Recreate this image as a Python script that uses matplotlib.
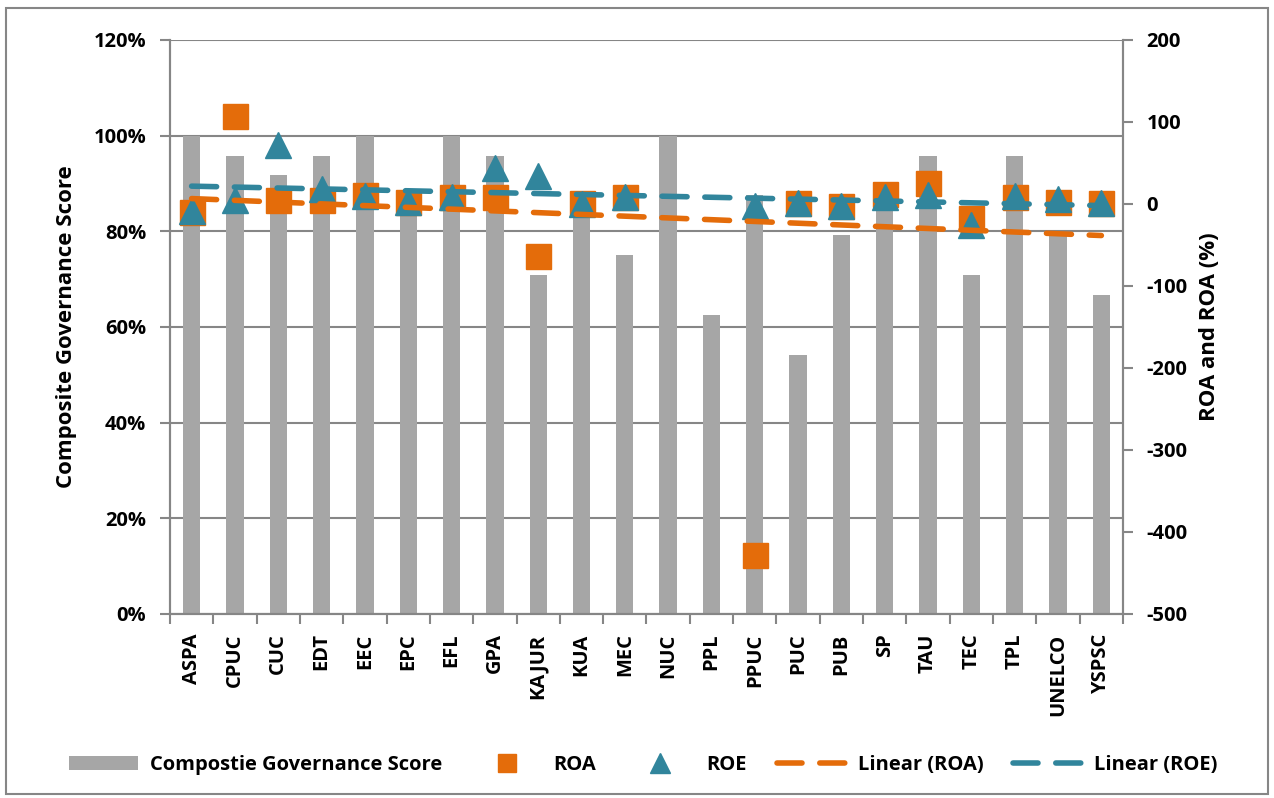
import numpy as np
import matplotlib.pyplot as plt
from matplotlib.patches import Rectangle
from matplotlib.ticker import PercentFormatter

plt.rcParams["font.family"] = ["Open Sans", "DejaVu Sans"]
plt.rcParams["font.weight"] = "bold"
plt.rcParams["axes.unicode_minus"] = False

companies = ["ASPA", "CPUC", "CUC", "EDT", "EEC", "EPC", "EFL", "GPA", "KAJUR", "KUA",
             "MEC", "NUC", "PPL", "PPUC", "PUC", "PUB", "SP", "TAU", "TEC", "TPL",
             "UNELCO", "YSPSC"]
score = [1.0, 0.958, 0.917, 0.958, 1.0, 0.833, 1.0, 0.958, 0.708, 0.833,
         0.75, 1.0, 0.625, 0.875, 0.542, 0.792, 0.875, 0.958, 0.708, 0.958,
         0.792, 0.667]
roa = [-10, 107, 5, 5, 11, 2, 9, 8, -63, 1,
       8, np.nan, np.nan, -428, 1, -2, 12, 25, -17, 8.5,
       2, 1]
roe = [-8, 5, 72, 18, 10, 2, 9, 44, 34, 0,
       8, np.nan, np.nan, -2, 1, -2, 8.5, 10.5, -26, 9.5,
       5.5, 1]

gray = "#A6A6A6"
orange = "#E46C0A"
teal = "#31859C"
axis_gray = "#868686"
fs = 14.5

fig = plt.figure(figsize=(12.74, 7.98), dpi=100)
ax1 = fig.add_axes([0.1334, 0.2306, 0.7481, 0.7193])
ax2 = ax1.twinx()

x = np.arange(1, len(companies) + 1)
ax1.bar(x, score, width=0.4, color=gray, zorder=2, label="Compostie Governance Score")
ax1.set_ylim(0, 1.2)
ax1.set_xlim(0.5, len(companies) + 0.5)
ax1.set_yticks(np.arange(0, 1.21, 0.2))
ax1.yaxis.set_major_formatter(PercentFormatter(1.0, decimals=0))
ax1.grid(axis="y", color=axis_gray, linewidth=1.5, zorder=0)
ax1.set_axisbelow(True)
ax1.set_xticks(x)
ax1.set_xticklabels(companies, rotation=90, fontsize=fs, fontweight="bold")
ax1.set_xticks(np.arange(0.5, len(companies) + 1, 1), minor=True)
ax1.tick_params(axis="x", which="major", length=0, pad=14)
ax1.tick_params(axis="x", which="minor", length=7, color=axis_gray, width=1.5)
ax1.tick_params(axis="y", length=7, color=axis_gray, width=1.5, labelsize=fs, pad=10)
ax1.set_ylabel("Composite Governance Score", fontsize=16, fontweight="bold", labelpad=12)

roa_a = np.array(roa, dtype=float)
roe_a = np.array(roe, dtype=float)
ax2.plot(x, roa_a, "s", color=orange, markersize=18, zorder=3, label="ROA")
ax2.plot(x, roe_a, "^", color=teal, markersize=19, zorder=4, label="ROE")

# linear trendlines, gaps skipped like Excel does
for vals, col, lab in [(roa_a, orange, "Linear (ROA)"), (roe_a, teal, "Linear (ROE)")]:
    ok = ~np.isnan(vals)
    k, b = np.polyfit(x[ok], vals[ok], 1)
    ax2.plot(x, k * x + b, color=col, linewidth=4, dashes=(4.5, 3.2),
             dash_capstyle="round", zorder=5, label=lab)

ax2.set_ylim(-500, 200)
ax2.set_yticks(np.arange(-500, 201, 100))
ax2.tick_params(axis="y", length=7, color=axis_gray, width=1.5, labelsize=fs, pad=10)
ax2.set_ylabel("ROA and ROA (%)", fontsize=16, fontweight="bold", labelpad=8)

for ax in (ax1, ax2):
    ax.spines["top"].set_visible(False)
    for s in ("left", "right", "bottom"):
        ax.spines[s].set_color(axis_gray)
        ax.spines[s].set_linewidth(1.5)
    for lbl in ax.get_yticklabels():
        lbl.set_fontweight("bold")

h1, l1 = ax1.get_legend_handles_labels()
h2, l2 = ax2.get_legend_handles_labels()
fig.legend(h1 + h2, l1 + l2, loc="center", bbox_to_anchor=(0.505, 0.041), ncol=5,
           frameon=False, prop={"size": fs, "weight": "bold"}, handlelength=3.4,
           columnspacing=1.5, handletextpad=0.6, markerscale=0.75)

fig.patches.append(Rectangle((0.005, 0.005), 0.99, 0.985, transform=fig.transFigure,
                             fill=False, edgecolor=axis_gray, linewidth=1.5))

fig.savefig("out.png", dpi=100)
